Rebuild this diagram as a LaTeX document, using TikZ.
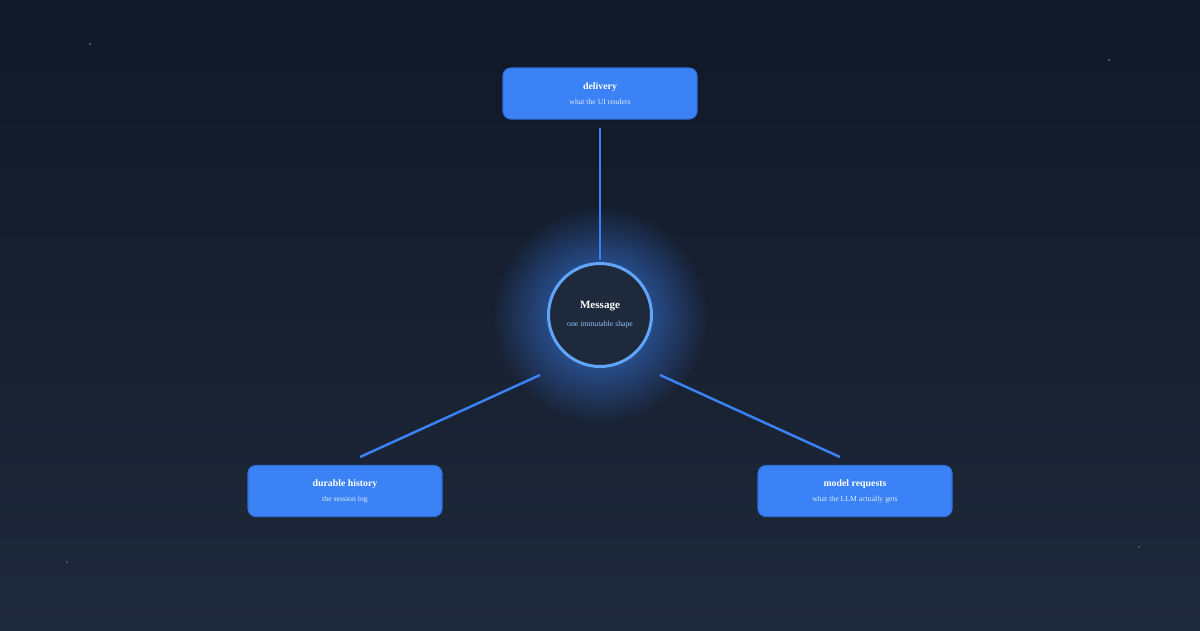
\documentclass[tikz,border=0pt]{standalone}
\usepackage{fontspec}
\setmainfont{Liberation Serif}
\usetikzlibrary{fadings}
\definecolor{bgtop}{HTML}{111827}
\definecolor{bgbot}{HTML}{1E293B}
\definecolor{boxfill}{HTML}{3B82F6}
\definecolor{boxedge}{HTML}{2F6FDB}
\definecolor{subtxt}{HTML}{DBEAFE}
\definecolor{ringc}{HTML}{60A5FA}
\definecolor{corefill}{HTML}{1E293B}
\definecolor{coresub}{HTML}{93C5FD}
\definecolor{linkc}{HTML}{3B82F6}
\definecolor{glowc}{HTML}{3B82F6}
\definecolor{starc}{HTML}{5B6B82}
\tikzfading[name=glowfade, inner color=transparent!15, outer color=transparent!100]
\tikzset{
  card/.style={rectangle, rounded corners=4.5pt, fill=boxfill, draw=boxedge, line width=0.6pt,
    minimum width=194*0.02cm, minimum height=51*0.02cm, inner sep=0pt, align=center, text=white,
    font=\fontsize{5}{8.5}\selectfont},
  core/.style={circle, fill=corefill, draw=ringc, line width=1.7pt, minimum size=103*0.02cm,
    inner sep=0pt, align=center, text=white, font=\fontsize{5}{10.2}\selectfont},
  link/.style={draw=linkc, line width=1.4pt},
  star/.style={fill=starc},
}
\newcommand{\cardtext}[2]{{\fontsize{5.6}{7}\selectfont\bfseries #1}\\{\fontsize{4.4}{5}\selectfont\color{subtxt}#2}}
\begin{document}
\begin{tikzpicture}[x=0.02cm,y=-0.02cm]
\shade[top color=bgtop, bottom color=bgbot] (0,0) rectangle (1200,630);
\useasboundingbox (0,0) rectangle (1200,630);
% stars
\fill[star] (90,44) circle (1.1);
\fill[star] (1109,60) circle (1.1);
\fill[star] (67,562) circle (1);
\fill[star] (1139,547) circle (1);
% glow
\fill[glowc, path fading=glowfade] (600,315) circle (108);
% connector endpoints
\coordinate (t1) at (600,128);
\coordinate (t2) at (600,260);
\coordinate (l1) at (540,375);
\coordinate (l2) at (360,457);
\coordinate (r1) at (660,375);
\coordinate (r2) at (840,457);
\draw[link] (t1) -- (t2);
\draw[link] (l1) -- (l2);
\draw[link] (r1) -- (r2);
% nodes
\node[card] (delivery) at (600,93.5) {\cardtext{delivery}{what the UI renders}};
\node[card] (history) at (345,491) {\cardtext{durable history}{the session log}};
\node[card] (model) at (855,491) {\cardtext{model requests}{what the LLM actually gets}};
\node[core] (msg) at (600,315) {{\fontsize{6.3}{8}\selectfont\bfseries Message}\\{\fontsize{4.4}{5}\selectfont\color{coresub}one immutable shape}};
\end{tikzpicture}
\end{document}
